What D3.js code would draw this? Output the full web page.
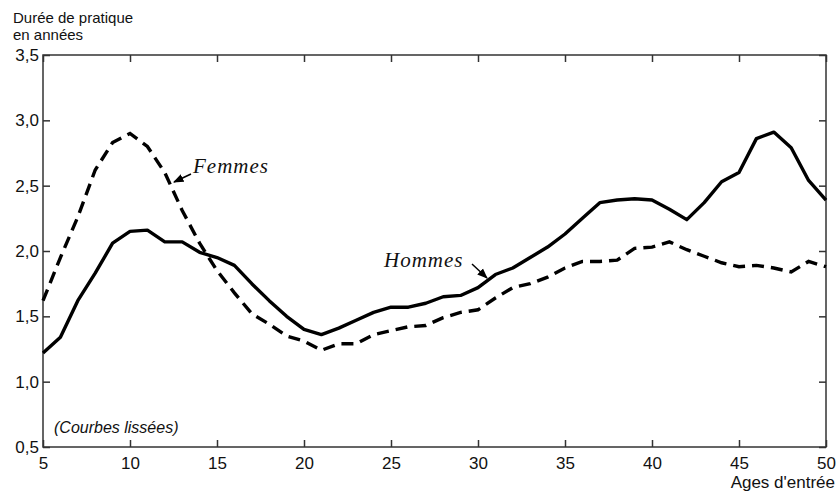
<!DOCTYPE html>
<html>
<head>
<meta charset="utf-8">
<script src="https://cdn.jsdelivr.net/npm/d3@7"></script>
<style>
  body { margin: 0; background: #fff; }
  svg { display: block; }
  .axis path, .axis line { stroke: #333; stroke-width: 1.5; }
  .axis text { font-family: "Liberation Sans", Arial, sans-serif; font-size: 17px; fill: #111; }
  .lbl { font-family: "Liberation Sans", Arial, sans-serif; font-size: 15px; fill: #111; }
  .serie { font-family: "Liberation Serif", "Times New Roman", serif; font-style: italic; font-size: 21px; fill: #111; letter-spacing: 1px; }
</style>
</head>
<body>
<svg width="837" height="492"></svg>
<script>
// ages d'entree
var ages = d3.range(5, 51);
// duree de pratique, hommes (courbe pleine)
var hommes = [1.22,1.34,1.62,1.83,2.06,2.15,2.16,2.07,2.07,1.99,1.95,1.89,1.75,1.62,1.50,1.40,1.36,1.41,1.47,1.53,
              1.57,1.57,1.60,1.65,1.66,1.72,1.82,1.87,1.95,2.03,2.13,2.25,2.37,2.39,2.40,2.39,2.32,2.24,2.37,2.53,
              2.60,2.86,2.91,2.79,2.54,2.39];
// duree de pratique, femmes (courbe tiretee)
var femmes = [1.62,1.95,2.26,2.62,2.83,2.90,2.80,2.60,2.31,2.06,1.85,1.68,1.52,1.44,1.35,1.31,1.24,1.29,1.29,1.36,
              1.39,1.42,1.43,1.49,1.53,1.55,1.64,1.72,1.75,1.80,1.87,1.92,1.92,1.93,2.02,2.03,2.07,2.01,1.96,1.91,
              1.88,1.89,1.87,1.84,1.92,1.88];
var xTicks = [5,10,15,20,25,30,35,40,45,50];
var yTicks = [0.5,1.0,1.5,2.0,2.5,3.0,3.5];

var svg = d3.select("svg"),
    margin = {top: 55, right: 11, bottom: 45, left: 43},
    width = +svg.attr("width") - margin.left - margin.right,
    height = +svg.attr("height") - margin.top - margin.bottom;

var x = d3.scaleLinear().domain([5, 50]).range([0, width]),
    y = d3.scaleLinear().domain([0.5, 3.5]).range([height, 0]);

var fmt = function(d) { return d3.format(".1f")(d).replace(".", ","); };

var g = svg.append("g")
    .attr("transform", "translate(" + margin.left + "," + margin.top + ")");

// cadre : axes avec graduations vers l'interieur
g.append("g")
    .attr("class", "axis")
    .attr("transform", "translate(0," + height + ")")
    .call(d3.axisBottom(x).tickValues(xTicks).tickSize(-7).tickSizeOuter(0).tickPadding(10));

g.append("g")
    .attr("class", "axis")
    .call(d3.axisTop(x).tickValues(xTicks).tickSize(-7).tickSizeOuter(0).tickFormat(""));

g.append("g")
    .attr("class", "axis")
    .call(d3.axisLeft(y).tickValues(yTicks).tickSize(-7).tickSizeOuter(0).tickPadding(4).tickFormat(fmt));

g.append("g")
    .attr("class", "axis")
    .attr("transform", "translate(" + width + ",0)")
    .call(d3.axisRight(y).tickValues(yTicks).tickSize(-7).tickSizeOuter(0).tickFormat(""));

g.selectAll(".axis .domain").remove();
g.append("rect")
    .attr("width", width)
    .attr("height", height)
    .attr("fill", "none")
    .attr("stroke", "#333")
    .attr("stroke-width", 1.5);

var line = d3.line()
    .x(function(d, i) { return x(ages[i]); })
    .y(function(d) { return y(d); });

g.append("path")
    .datum(femmes)
    .attr("d", line)
    .attr("fill", "none")
    .attr("stroke", "#000")
    .attr("stroke-width", 3.4)
    .attr("stroke-dasharray", "12,7");

g.append("path")
    .datum(hommes)
    .attr("d", line)
    .attr("fill", "none")
    .attr("stroke", "#000")
    .attr("stroke-width", 3.4)
    .attr("stroke-linejoin", "round");

// fleches des etiquettes
svg.append("defs").append("marker")
    .attr("id", "tete")
    .attr("viewBox", "0 0 10 10")
    .attr("refX", 9).attr("refY", 5)
    .attr("markerWidth", 7).attr("markerHeight", 7)
    .attr("orient", "auto")
  .append("path")
    .attr("d", "M0,1 L10,5 L0,9 z")
    .attr("fill", "#000");

function fleche(x1, y1, x2, y2) {
    svg.append("line")
        .attr("x1", x1).attr("y1", y1).attr("x2", x2).attr("y2", y2)
        .attr("stroke", "#000").attr("stroke-width", 1.5)
        .attr("marker-end", "url(#tete)");
}

svg.append("text").attr("class", "serie").attr("x", 193).attr("y", 173).text("Femmes");
fleche(191, 174, 174, 182);
svg.append("text").attr("class", "serie").attr("x", 384).attr("y", 267).text("Hommes");
fleche(472, 264, 487, 278);

// titres
svg.append("text").attr("class", "lbl").attr("x", 13).attr("y", 23).text("Durée de pratique");
svg.append("text").attr("class", "lbl").attr("x", 13).attr("y", 40).text("en années");
svg.append("text").attr("class", "lbl").attr("x", 835).attr("y", 488)
    .style("font-size", "17px")
    .attr("text-anchor", "end").text("Ages d'entrée");
svg.append("text").attr("class", "lbl")
    .attr("x", 54).attr("y", 433)
    .style("font-style", "italic").style("font-size", "16px")
    .text("(Courbes lissées)");
</script>
</body>
</html>
